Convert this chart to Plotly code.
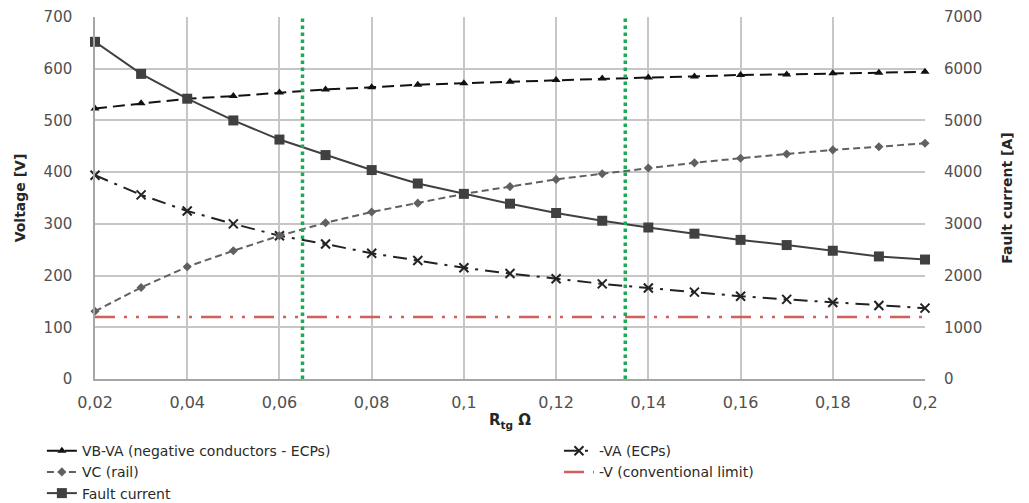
import plotly.graph_objects as go

# ---- data ----
rtg = [0.02, 0.03, 0.04, 0.05, 0.06, 0.07, 0.08, 0.09, 0.10, 0.11,
       0.12, 0.13, 0.14, 0.15, 0.16, 0.17, 0.18, 0.19, 0.20]
vb_va = [523, 533, 542, 547, 554, 560, 564, 569, 572, 575,
         578, 581, 583, 585, 588, 589, 591, 592, 594]
va = [394, 356, 325, 300, 277, 261, 243, 229, 215, 204,
      194, 184, 176, 168, 160, 154, 148, 142, 137]
vc = [131, 177, 217, 248, 277, 302, 323, 340, 358, 372,
      386, 397, 408, 418, 427, 435, 443, 449, 456]
v_limit = [120] * 19
fault_current = [6520, 5900, 5420, 5000, 4630, 4330, 4040, 3780, 3580, 3390,
                 3210, 3060, 2930, 2810, 2690, 2590, 2480, 2370, 2310]
limit_rtg = [0.065, 0.135]

x_tickvals = [0.02, 0.04, 0.06, 0.08, 0.10, 0.12, 0.14, 0.16, 0.18, 0.20]
x_ticktext = ["0,02", "0,04", "0,06", "0,08", "0,1", "0,12", "0,14", "0,16", "0,18", "0,2"]

FONT = "DejaVu Sans"
TICKC = "#505050"
GRID = "#C6C6C6"

fig = go.Figure()

fig.add_trace(go.Scatter(
    x=rtg, y=vb_va, name="VB-VA (negative conductors - ECPs)", legend="legend",
    mode="lines+markers", cliponaxis=False,
    line=dict(color="#111111", width=2, dash="12px,6px"),
    marker=dict(symbol="triangle-up", size=8, color="#111111")))

fig.add_trace(go.Scatter(
    x=rtg, y=va, name="-VA (ECPs)", legend="legend2",
    mode="lines+markers", cliponaxis=False,
    line=dict(color="#222222", width=2, dash="14px,7px,3px,7px"),
    marker=dict(symbol="x-thin", size=9, color="#222222",
                line=dict(width=2, color="#222222"))))

fig.add_trace(go.Scatter(
    x=rtg, y=vc, name="VC (rail)", legend="legend",
    mode="lines+markers", cliponaxis=False,
    line=dict(color="#606060", width=2, dash="7px,4px"),
    marker=dict(symbol="diamond", size=7, color="#606060")))

fig.add_trace(go.Scatter(
    x=rtg, y=v_limit, name="-V (conventional limit)", legend="legend2",
    mode="lines",
    line=dict(color="#D0605C", width=2.5, dash="20px,9px,3px,9px,3px,9px")))

fig.add_trace(go.Scatter(
    x=rtg, y=fault_current, name="Fault current", yaxis="y2", legend="legend",
    mode="lines+markers", cliponaxis=False,
    line=dict(color="#404040", width=2),
    marker=dict(symbol="square", size=10, color="#404040")))

for xv in limit_rtg:
    fig.add_shape(type="line", x0=xv, x1=xv, y0=0, y1=1, xref="x", yref="paper",
                  line=dict(color="#1DAA55", width=3.5, dash="dot"), layer="above")

legend_common = dict(orientation="v", yanchor="top", xanchor="left",
                     font=dict(family=FONT, size=14, color="#2a2a2a"),
                     tracegroupgap=0, itemwidth=30, bgcolor="rgba(0,0,0,0)",
                     borderwidth=0)

fig.update_layout(
    width=1021, height=495,
    margin=dict(l=87, r=104, t=9, b=124, autoexpand=False),
    paper_bgcolor="white", plot_bgcolor="white",
    font=dict(family=FONT, size=15, color=TICKC),
    showlegend=True,
    legend=dict(x=-0.064, y=-0.155, **legend_common),
    legend2=dict(x=0.559, y=-0.155, **legend_common),
    xaxis=dict(range=[0.02, 0.2], tickvals=x_tickvals, ticktext=x_ticktext,
               showgrid=True, gridcolor=GRID, gridwidth=1.5,
               showline=True, linecolor="#A6A6A6", linewidth=1.5,
               ticks="", zeroline=False, ticklabelstandoff=8,
               ticklabeloverflow="allow",
               tickfont=dict(family=FONT, size=16, color=TICKC),
               title=dict(text="<b>R<sub>tg</sub> Ω</b>", standoff=4,
                          font=dict(family=FONT, size=15, color="#262626"))),
    yaxis=dict(range=[0, 700], dtick=100, tickformat="d",
               showgrid=True, gridcolor=GRID, gridwidth=1.5,
               showline=True, linecolor="#A6A6A6", linewidth=1.5,
               zeroline=False, ticks="", ticklabelstandoff=18,
               ticklabeloverflow="allow",
               tickfont=dict(family=FONT, size=15, color=TICKC),
               title=dict(text="<b>Voltage [V]</b>", standoff=15,
                          font=dict(family=FONT, size=14, color="#262626"))),
    yaxis2=dict(range=[0, 7000], dtick=1000, tickformat="d",
                overlaying="y", side="right", showgrid=False,
                zeroline=False, ticks="", showline=False, ticklabelstandoff=18,
                ticklabeloverflow="allow",
                tickfont=dict(family=FONT, size=15, color=TICKC),
                title=dict(text="<b>Fault current [A]</b>", standoff=21,
                           font=dict(family=FONT, size=14, color="#262626"))),
)

fig.write_html("out.html")
